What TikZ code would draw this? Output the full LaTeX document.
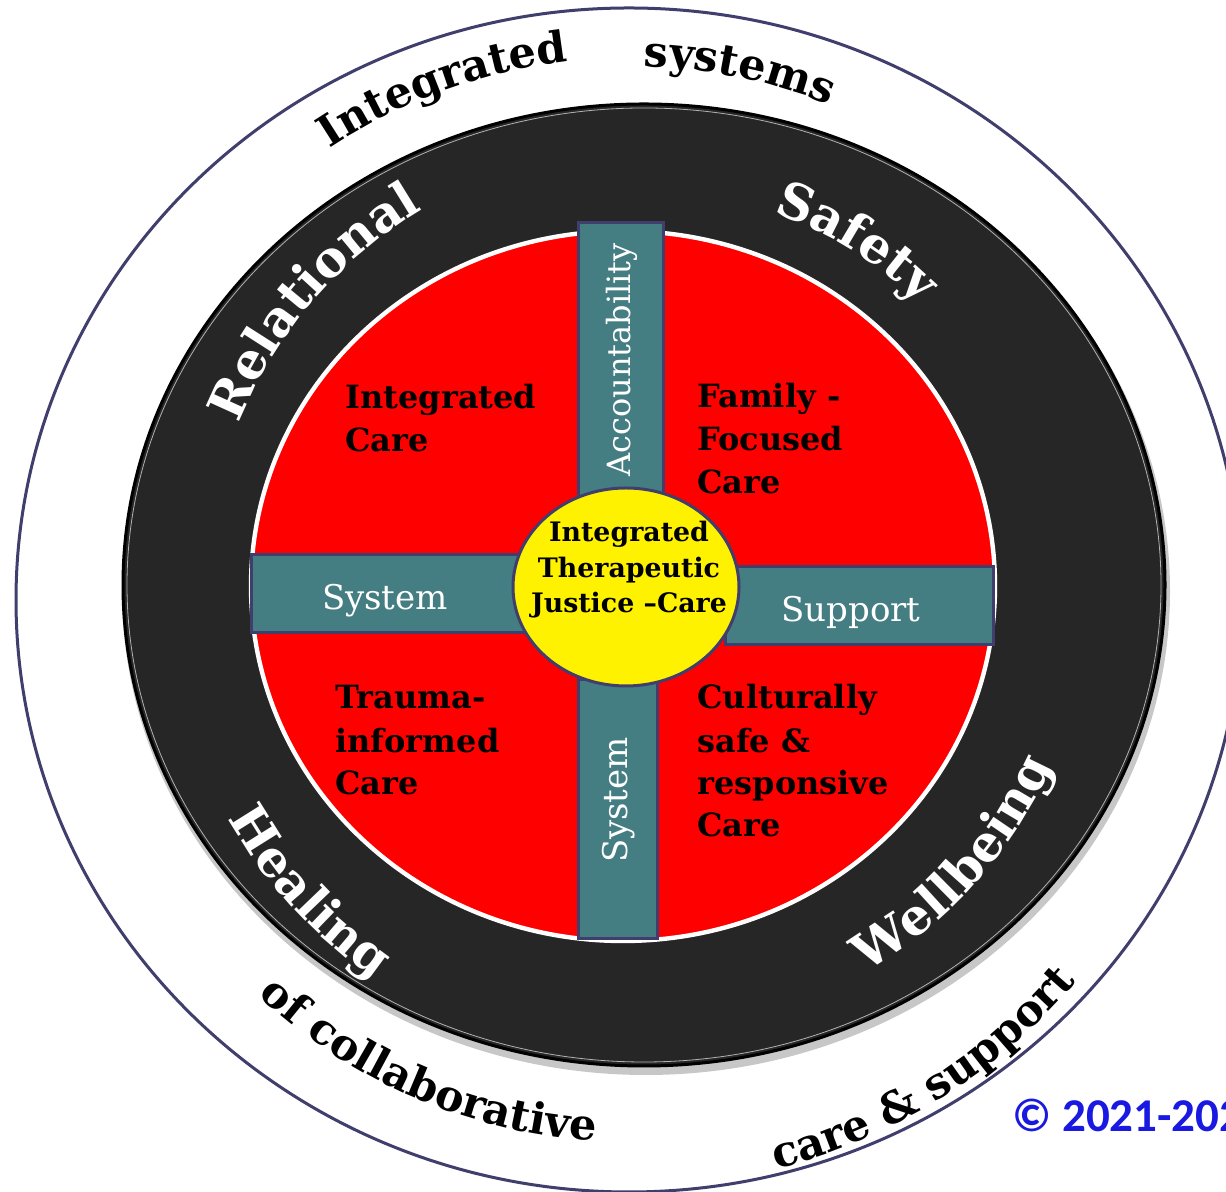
\documentclass[tikz,border=0pt]{standalone}
\usepackage{fontspec}
\setmainfont{DejaVu Serif}
\newfontfamily\copyfont{Carlito}
\usetikzlibrary{decorations.text}
\definecolor{barteal}{RGB}{69,126,130}
\definecolor{navyline}{RGB}{64,62,108}
\definecolor{ringblack}{RGB}{38,38,38}
\definecolor{copyblue}{RGB}{25,25,225}
\newcommand\outerfmt{\bfseries\fontsize{21.5}{24}\selectfont}
\newcommand\ringfmt{\bfseries\fontsize{25}{28}\selectfont\color{white}}
\begin{document}
\begin{tikzpicture}[x=0.5pt,y=0.5pt,
  bar/.style={fill=barteal, draw=navyline, line width=1.5pt},
  bartext/.style={text=white, font=\fontsize{17}{20}\selectfont, inner sep=0},
  qtext/.style={font=\bfseries\fontsize{16}{19}\selectfont, inner sep=0, anchor=base west},
  ytext/.style={font=\bfseries\fontsize{13.4}{16}\selectfont, inner sep=0, anchor=base},
  curved/.style={decorate, decoration={text along path, text align=center, text={#1}}},
]
\useasboundingbox (0,0) rectangle (1226,1192);
\fill[white] (0,0) rectangle (1226,1192);

% outer ring
\draw[navyline, line width=1.5pt, fill=white] (629,592) ellipse [x radius=613, y radius=592];

% black ring with soft shadow
\fill[black, opacity=0.22] (646,601) ellipse [x radius=524, y radius=484];
\draw[black, line width=1.5pt, fill=ringblack] (644,607) ellipse [x radius=521, y radius=481];
\draw[gray!60, line width=0.4pt] (644,607) ellipse [x radius=517, y radius=477];

% red disc
\draw[white, line width=2.2pt, fill=red] (623,606) ellipse [x radius=372, y radius=355];

% bars
\draw[bar] (578,692) rectangle (663,969);
\draw[bar] (578,253) rectangle (657,512);
\draw[bar] (251,559) rectangle (525,637);
\draw[bar] (725,547) rectangle (993,625);

% centre
\draw[navyline, line width=1.5pt, fill=yellow] (626,605) ellipse [x radius=113, y radius=99];

% bar labels
\node[bartext, anchor=base] (sysleft) at (385,582) {System};
\node[bartext, anchor=base] (support) at (851,570) {Support};
\node[bartext, rotate=90, font=\fontsize{16}{19}\selectfont] (account) at (622,832) {Accountability};
\node[bartext, rotate=90] (sysbottom) at (619,392) {System};

% quadrant labels
\node[qtext] (ic1) at (345,783) {Integrated};
\node[qtext] (ic2) at (345,740) {Care};
\node[qtext] (ff1) at (697,784) {Family -};
\node[qtext] (ff2) at (697,741) {Focused};
\node[qtext] (ff3) at (697,698) {Care};
\node[qtext] (tr1) at (335,483) {Trauma-};
\node[qtext] (tr2) at (335,439) {informed};
\node[qtext] (tr3) at (335,397) {Care};
\node[qtext] (cu1) at (697,483) {Culturally};
\node[qtext] (cu2) at (697,439) {safe \&};
\node[qtext] (cu3) at (697,397) {responsive};
\node[qtext] (cu4) at (697,355) {Care};

% centre label
\node[ytext] (ct1) at (629,650) {Integrated};
\node[ytext] (ct2) at (629,614) {Therapeutic};
\node[ytext] (ct3) at (629,579) {Justice –Care};

% curved words, outer ring
\path[curved={|\outerfmt|Integrated}] ([shift={(629,592)}]140:542) arc[start angle=140, end angle=80, radius=542];
\path[curved={|\outerfmt|systems}] ([shift={(629,592)}]108.2:534) arc[start angle=108.2, end angle=48.2, radius=534];
\path[curved={|\outerfmt|of collaborative}] ([shift={(629,592)}]206.6:542) arc[start angle=206.6, end angle=286.6, radius=542];
\path[curved={|\outerfmt|care {\&} support}] ([shift={(629,592)}]267:588) arc[start angle=267, end angle=337, radius=588];

% curved words, black ring
\path[curved={|\ringfmt|Relational}] ([shift={(644,607)}]174.4:436) arc[start angle=174.4, end angle=104.4, radius=436];
\path[curved={|\ringfmt|Safety}] ([shift={(644,607)}]93.2:394) arc[start angle=93.2, end angle=23.2, radius=394];
\path[curved={|\ringfmt|Healing}] ([shift={(644,607)}]187.5:477) arc[start angle=187.5, end angle=257.5, radius=477];
\path[curved={|\ringfmt|Wellbeing}] ([shift={(644,607)}]283:446) arc[start angle=283, end angle=353, radius=446];

% copyright
\node[font=\copyfont\bfseries\fontsize{23.5}{28}\selectfont, text=copyblue, anchor=base west, inner sep=0] (copy) at (1012,60) {© 2021-202};
\end{tikzpicture}
\end{document}
